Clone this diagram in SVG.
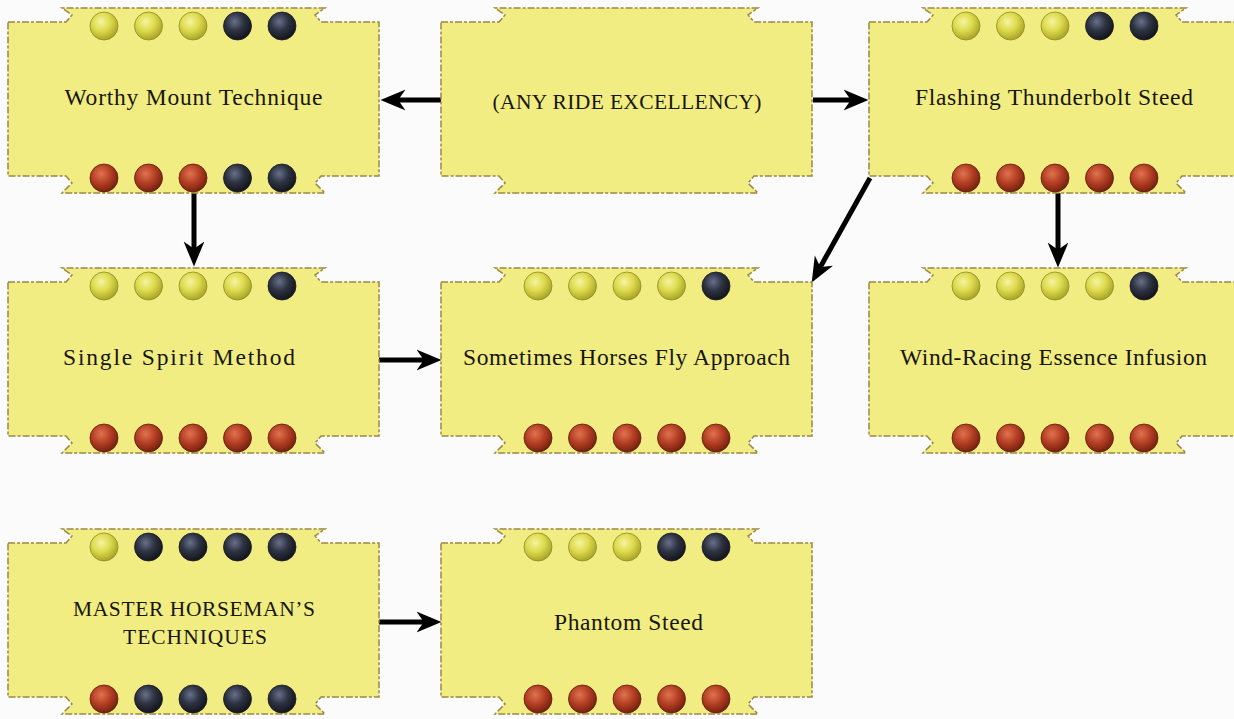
<svg xmlns="http://www.w3.org/2000/svg" width="1234" height="719" viewBox="0 0 1234 719">
<style>
.card{fill:#f2ed82;stroke:#9a8845;stroke-width:1.5;stroke-dasharray:7 2 3 2}
.lbl{font-family:"Liberation Serif","Times New Roman",serif;font-size:23.5px;fill:#17160c;text-anchor:middle}
.caps{font-size:21.5px}
.conn{stroke:#000;stroke-width:5;fill:none;marker-end:url(#arr)}
.y{fill:url(#gy);stroke:#8f8a2a;stroke-width:0.8}
.d{fill:url(#gd);stroke:#1a1c24;stroke-width:0.8}
.r{fill:url(#gr);stroke:#5e1d0c;stroke-width:0.8}
</style>
<defs>
<path id="shape" d="M0,14 H58 L64,7 L54,0 H317 L307,7 L313,14 H371 V168 H313 L307,175 L317,185 H54 L64,175 L58,168 H0 Z"/>
<radialGradient id="gy" cx="0.4" cy="0.35" r="0.65">
<stop offset="0" stop-color="#f6f4a0"/><stop offset="0.5" stop-color="#dedb4e"/><stop offset="1" stop-color="#aaa628"/>
</radialGradient>
<radialGradient id="gd" cx="0.4" cy="0.35" r="0.65">
<stop offset="0" stop-color="#68708a"/><stop offset="0.5" stop-color="#2e3342"/><stop offset="1" stop-color="#14161d"/>
</radialGradient>
<radialGradient id="gr" cx="0.4" cy="0.35" r="0.65">
<stop offset="0" stop-color="#e07350"/><stop offset="0.55" stop-color="#b23d22"/><stop offset="1" stop-color="#762210"/>
</radialGradient>
<marker id="arr" markerUnits="userSpaceOnUse" markerWidth="26" markerHeight="22" viewBox="0 0 25 20" refX="12" refY="10" orient="auto">
<path d="M0,0 L24,10 L0,20 L7,10 Z" fill="#000"/>
</marker>
</defs>
<rect width="1234" height="719" fill="#fbfbfb"/>

<g id="connectors">
<line class="conn" x1="441" y1="100" x2="393" y2="100"/>
<line class="conn" x1="813" y1="100" x2="856" y2="100"/>
<line class="conn" x1="194" y1="193" x2="194" y2="254"/>
<line class="conn" x1="1058" y1="193" x2="1058" y2="255"/>
<line class="conn" x1="870" y1="178" x2="817.8" y2="271.5"/>
<line class="conn" x1="379" y1="360" x2="429" y2="360"/>
<line class="conn" x1="379" y1="622" x2="429" y2="622"/>
</g>

<g id="worthy" transform="translate(8,8)">
<use href="#shape" class="card"/>
<circle class="y" cx="96" cy="18" r="14"/><circle class="y" cx="140.5" cy="18" r="14"/><circle class="y" cx="185" cy="18" r="14"/><circle class="d" cx="229.5" cy="18" r="14"/><circle class="d" cx="274" cy="18" r="14"/>
<circle class="r" cx="96" cy="170" r="14"/><circle class="r" cx="140.5" cy="170" r="14"/><circle class="r" cx="185" cy="170" r="14"/><circle class="d" cx="229.5" cy="170" r="14"/><circle class="d" cx="274" cy="170" r="14"/>
<text class="lbl" x="185.5" y="97" textLength="258" lengthAdjust="spacing">Worthy Mount Technique</text>
</g>

<g id="any" transform="translate(441,8)">
<use href="#shape" class="card"/>
<text class="lbl caps" x="186" y="101" textLength="269" lengthAdjust="spacing">(ANY RIDE EXCELLENCY)</text>
</g>

<g id="flashing" transform="translate(869,8)">
<use href="#shape" class="card"/>
<circle class="y" cx="97" cy="18" r="14"/><circle class="y" cx="141.5" cy="18" r="14"/><circle class="y" cx="186" cy="18" r="14"/><circle class="d" cx="230.5" cy="18" r="14"/><circle class="d" cx="275" cy="18" r="14"/>
<circle class="r" cx="97" cy="170" r="14"/><circle class="r" cx="141.5" cy="170" r="14"/><circle class="r" cx="186" cy="170" r="14"/><circle class="r" cx="230.5" cy="170" r="14"/><circle class="r" cx="275" cy="170" r="14"/>
<text class="lbl" x="185" y="97" textLength="278" lengthAdjust="spacing">Flashing Thunderbolt Steed</text>
</g>

<g id="single" transform="translate(8,268)">
<use href="#shape" class="card"/>
<circle class="y" cx="96" cy="18" r="14"/><circle class="y" cx="140.5" cy="18" r="14"/><circle class="y" cx="185" cy="18" r="14"/><circle class="y" cx="229.5" cy="18" r="14"/><circle class="d" cx="274" cy="18" r="14"/>
<circle class="r" cx="96" cy="170" r="14"/><circle class="r" cx="140.5" cy="170" r="14"/><circle class="r" cx="185" cy="170" r="14"/><circle class="r" cx="229.5" cy="170" r="14"/><circle class="r" cx="274" cy="170" r="14"/>
<text class="lbl" x="171" y="97" textLength="232" lengthAdjust="spacing">Single Spirit Method</text>
</g>

<g id="sometimes" transform="translate(441,268)">
<use href="#shape" class="card"/>
<circle class="y" cx="97" cy="18" r="14"/><circle class="y" cx="141.5" cy="18" r="14"/><circle class="y" cx="186" cy="18" r="14"/><circle class="y" cx="230.5" cy="18" r="14"/><circle class="d" cx="275" cy="18" r="14"/>
<circle class="r" cx="97" cy="170" r="14"/><circle class="r" cx="141.5" cy="170" r="14"/><circle class="r" cx="186" cy="170" r="14"/><circle class="r" cx="230.5" cy="170" r="14"/><circle class="r" cx="275" cy="170" r="14"/>
<text class="lbl" x="185.5" y="97" textLength="327" lengthAdjust="spacing">Sometimes Horses Fly Approach</text>
</g>

<g id="wind" transform="translate(869,268)">
<use href="#shape" class="card"/>
<circle class="y" cx="97" cy="18" r="14"/><circle class="y" cx="141.5" cy="18" r="14"/><circle class="y" cx="186" cy="18" r="14"/><circle class="y" cx="230.5" cy="18" r="14"/><circle class="d" cx="275" cy="18" r="14"/>
<circle class="r" cx="97" cy="170" r="14"/><circle class="r" cx="141.5" cy="170" r="14"/><circle class="r" cx="186" cy="170" r="14"/><circle class="r" cx="230.5" cy="170" r="14"/><circle class="r" cx="275" cy="170" r="14"/>
<text class="lbl" x="184.5" y="97" textLength="307" lengthAdjust="spacing">Wind-Racing Essence Infusion</text>
</g>

<g id="master" transform="translate(8,529)">
<use href="#shape" class="card"/>
<circle class="y" cx="96" cy="18" r="14"/><circle class="d" cx="140.5" cy="18" r="14"/><circle class="d" cx="185" cy="18" r="14"/><circle class="d" cx="229.5" cy="18" r="14"/><circle class="d" cx="274" cy="18" r="14"/>
<circle class="r" cx="96" cy="170" r="14"/><circle class="d" cx="140.5" cy="170" r="14"/><circle class="d" cx="185" cy="170" r="14"/><circle class="d" cx="229.5" cy="170" r="14"/><circle class="d" cx="274" cy="170" r="14"/>
<text class="lbl caps" x="186" y="87" textLength="242" lengthAdjust="spacing">MASTER HORSEMAN’S</text>
<text class="lbl caps" x="187" y="115" textLength="144" lengthAdjust="spacing">TECHNIQUES</text>
</g>

<g id="phantom" transform="translate(441,529)">
<use href="#shape" class="card"/>
<circle class="y" cx="97" cy="18" r="14"/><circle class="y" cx="141.5" cy="18" r="14"/><circle class="y" cx="186" cy="18" r="14"/><circle class="d" cx="230.5" cy="18" r="14"/><circle class="d" cx="275" cy="18" r="14"/>
<circle class="r" cx="97" cy="170" r="14"/><circle class="r" cx="141.5" cy="170" r="14"/><circle class="r" cx="186" cy="170" r="14"/><circle class="r" cx="230.5" cy="170" r="14"/><circle class="r" cx="275" cy="170" r="14"/>
<text class="lbl" x="187.5" y="101" textLength="149" lengthAdjust="spacing">Phantom Steed</text>
</g>
</svg>
